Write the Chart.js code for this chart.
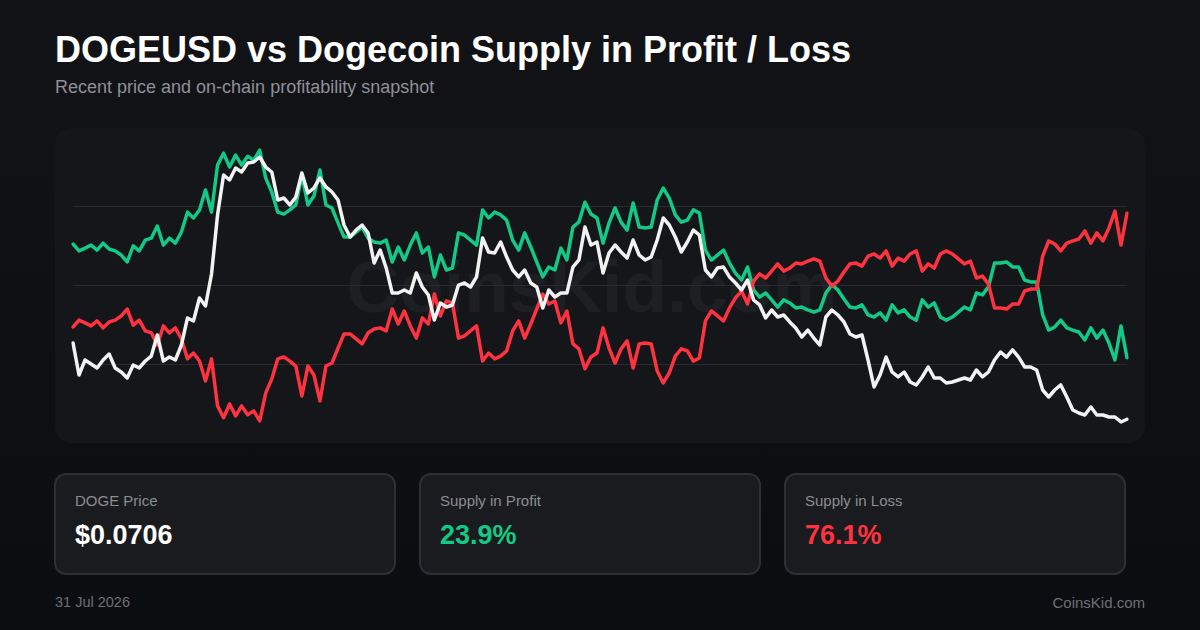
<!DOCTYPE html>
<html>
<head>
<meta charset="utf-8">
<script src="https://cdn.jsdelivr.net/npm/chart.js@4.4.1/dist/chart.umd.min.js"></script>
<style>
  * { margin: 0; padding: 0; box-sizing: border-box; }
  body {
    width: 1200px; height: 630px; overflow: hidden;
    background: linear-gradient(180deg, #121317 0%, #0c0d10 100%);
    font-family: "Liberation Sans", Arial, sans-serif;
    position: relative;
  }
  .title { position: absolute; left: 55px; top: 29px; font-size: 36px; font-weight: bold; color: #ffffff; }
  .subtitle { position: absolute; left: 55px; top: 77px; font-size: 18px; color: #8e9096; }
  .panel {
    position: absolute; left: 55px; top: 128px; width: 1090px; height: 315px;
    background: #15161a; border-radius: 16px; overflow: hidden;
  }
  .watermark {
    position: absolute; left: 0; width: 1074px; top: 159px; text-align: center;
    font-size: 73px; font-weight: bold; color: rgba(255,255,255,0.04);
    line-height: 90px; margin-top: -45px;
  }
  .chart-box { position: absolute; left: 55px; top: 128px; width: 1090px; height: 315px; }
  .stat {
    position: absolute; top: 473px; width: 342px; height: 102px;
    background: #1a1b1f; border: 2px solid #2d2f34; border-radius: 12px;
  }
  .stat .label { position: absolute; left: 19px; top: 17px; font-size: 15px; color: #8b8d93; }
  .stat .value { position: absolute; left: 19px; top: 45px; font-size: 27px; font-weight: bold; }
  .footer { position: absolute; top: 594px; font-size: 14.5px; color: #6d6f75; }
</style>
</head>
<body>
  <div class="title">DOGEUSD vs Dogecoin Supply in Profit / Loss</div>
  <div class="subtitle">Recent price and on-chain profitability snapshot</div>
  <div class="panel"><div class="watermark">CoinsKid.com</div></div>
  <div class="chart-box"><canvas id="mainChart"></canvas></div>

  <div class="stat" style="left:54px">
    <div class="label">DOGE Price</div>
    <div class="value" id="priceValue" style="color:#ffffff"></div>
  </div>
  <div class="stat" style="left:419px">
    <div class="label">Supply in Profit</div>
    <div class="value" id="profitValue" style="color:#14c886"></div>
  </div>
  <div class="stat" style="left:784px">
    <div class="label">Supply in Loss</div>
    <div class="value" id="lossValue" style="color:#ff3340"></div>
  </div>

  <div class="footer" style="left:55px">31 Jul 2026</div>
  <div class="footer" style="right:55px; font-size:15px">CoinsKid.com</div>

<script>
// DOGE price (USD), one point every 2 days
const dogePrice = [
  0.169, 0.1276, 0.147, 0.1418, 0.1367, 0.147, 0.1547, 0.1367, 0.1315, 0.1238,
  0.1405, 0.1367, 0.1457, 0.1521, 0.1792, 0.1457, 0.1508, 0.147, 0.1663, 0.2011,
  0.1972, 0.2269, 0.2166, 0.2578, 0.3339, 0.3854, 0.379, 0.3944, 0.3893, 0.4009,
  0.4022, 0.4086, 0.3957, 0.3893, 0.3532, 0.3558, 0.3468, 0.3571, 0.388, 0.3622,
  0.3687, 0.3816, 0.37, 0.3635, 0.3532, 0.321, 0.3055, 0.3145, 0.321, 0.3107,
  0.272, 0.2888, 0.2656, 0.2333, 0.2333, 0.2372, 0.2333, 0.2591, 0.2411, 0.2308,
  0.1985, 0.2204, 0.2153, 0.2179, 0.2436, 0.2462, 0.2411, 0.254, 0.3042, 0.2862,
  0.2849, 0.2991, 0.2797, 0.263, 0.254, 0.263, 0.2462, 0.2411, 0.214, 0.2372,
  0.2282, 0.2333, 0.2333, 0.2668, 0.2759, 0.3184, 0.2952, 0.2991, 0.2591, 0.2849,
  0.2952, 0.2862, 0.2784, 0.3016, 0.2823, 0.2759, 0.2797, 0.3016, 0.33, 0.321,
  0.3055, 0.2862, 0.2991, 0.3145, 0.3081, 0.263, 0.254, 0.2656, 0.2668, 0.254,
  0.2462, 0.2372, 0.2501, 0.2243, 0.2179, 0.2011, 0.2114, 0.2024, 0.205, 0.196,
  0.1882, 0.1766, 0.1856, 0.1753, 0.1663, 0.2024, 0.2114, 0.205, 0.196, 0.1805,
  0.1766, 0.1792, 0.147, 0.1122, 0.1276, 0.1508, 0.1315, 0.1251, 0.1315, 0.1186,
  0.1148, 0.1251, 0.138, 0.1238, 0.1238, 0.1173, 0.1186, 0.1212, 0.1238, 0.1212,
  0.1341, 0.1251, 0.1315, 0.147, 0.1573, 0.1508, 0.1599, 0.1508, 0.138, 0.138,
  0.1341, 0.1083, 0.0993, 0.1083, 0.1148, 0.0993, 0.0825, 0.0787, 0.0761, 0.0864,
  0.0761, 0.0761, 0.0735, 0.0735, 0.0671, 0.0706
];

// % of supply in profit
const supplyProfit = [
  65.0, 62.5, 63.5, 64.6, 62.8, 65.3, 63.2, 62.5, 61.0, 58.5,
  64.3, 62.5, 66.4, 67.1, 71.5, 64.6, 67.1, 65.3, 69.3, 76.5,
  74.4, 77.3, 84.5, 76.5, 93.5, 97.8, 92.8, 97.1, 93.5, 96.7,
  95.3, 98.9, 88.8, 83.8, 76.5, 75.8, 77.3, 79.1, 89.9, 79.1,
  82.3, 91.7, 79.1, 78.0, 72.6, 67.5, 67.5, 69.3, 71.1, 67.1,
  65.7, 65.3, 66.4, 58.5, 63.9, 59.2, 64.6, 69.0, 61.7, 63.9,
  53.1, 61.0, 55.6, 56.3, 69.0, 68.2, 66.4, 64.6, 77.3, 74.4,
  76.5, 75.5, 73.6, 66.4, 62.8, 69.0, 63.9, 58.5, 53.1, 56.7,
  55.6, 63.5, 59.2, 71.1, 72.9, 80.1, 75.8, 74.4, 65.3, 72.6,
  78.0, 72.9, 70.0, 79.8, 71.1, 70.8, 71.1, 80.9, 85.2, 81.6,
  75.5, 72.9, 73.6, 77.3, 76.2, 62.8, 59.2, 61.0, 62.8, 58.1,
  54.5, 52.0, 56.7, 48.4, 45.8, 47.3, 44.8, 42.2, 44.8, 43.7,
  41.9, 42.2, 41.2, 40.4, 41.2, 47.3, 50.2, 48.4, 45.1, 42.2,
  41.9, 43.0, 39.4, 38.6, 40.1, 37.5, 43.0, 40.1, 41.2, 38.6,
  37.5, 44.8, 42.2, 43.7, 38.6, 37.5, 38.6, 40.4, 42.2, 41.2,
  47.3, 46.6, 49.5, 58.1, 58.1, 58.5, 56.7, 56.7, 52.0, 51.3,
  51.3, 39.4, 33.9, 35.0, 37.5, 34.7, 33.9, 33.2, 30.3, 34.7,
  31.0, 33.9, 29.2, 23.1, 35.4, 23.9
];

// % of supply in loss
const supplyLoss = [
  35.0, 37.5, 36.5, 35.4, 37.2, 34.7, 36.8, 37.5, 39.0, 41.5,
  35.7, 37.5, 33.6, 32.9, 28.5, 35.4, 32.9, 34.7, 30.7, 23.5,
  25.6, 22.7, 15.5, 23.5, 6.5, 2.2, 7.2, 2.9, 6.5, 3.3,
  4.7, 1.1, 11.2, 16.2, 23.5, 24.2, 22.7, 20.9, 10.1, 20.9,
  17.7, 8.3, 20.9, 22.0, 27.4, 32.5, 32.5, 30.7, 28.9, 32.9,
  34.3, 34.7, 33.6, 41.5, 36.1, 40.8, 35.4, 31.0, 38.3, 36.1,
  46.9, 39.0, 44.4, 43.7, 31.0, 31.8, 33.6, 35.4, 22.7, 25.6,
  23.5, 24.5, 26.4, 33.6, 37.2, 31.0, 36.1, 41.5, 46.9, 43.3,
  44.4, 36.5, 40.8, 28.9, 27.1, 19.9, 24.2, 25.6, 34.7, 27.4,
  22.0, 27.1, 30.0, 20.2, 28.9, 29.2, 28.9, 19.1, 14.8, 18.4,
  24.5, 27.1, 26.4, 22.7, 23.8, 37.2, 40.8, 39.0, 37.2, 41.9,
  45.5, 48.0, 43.3, 51.6, 54.2, 52.7, 55.2, 57.8, 55.2, 56.3,
  58.1, 57.8, 58.8, 59.6, 58.8, 52.7, 49.8, 51.6, 54.9, 57.8,
  58.1, 57.0, 60.6, 61.4, 59.9, 62.5, 57.0, 59.9, 58.8, 61.4,
  62.5, 55.2, 57.8, 56.3, 61.4, 62.5, 61.4, 59.6, 57.8, 58.8,
  52.7, 53.4, 50.5, 41.9, 41.9, 41.5, 43.3, 43.3, 48.0, 48.7,
  48.7, 60.6, 66.1, 65.0, 62.5, 65.3, 66.1, 66.8, 69.7, 65.3,
  69.0, 66.1, 70.8, 76.9, 64.6, 76.1
];

// date labels, every 2 days up to the snapshot date
const lastDate = new Date(Date.UTC(2026, 6, 31));
const dates = dogePrice.map((_, i) => {
    const d = new Date(lastDate.getTime() - (dogePrice.length - 1 - i) * 2 * 86400000);
    return d.toISOString().slice(0, 10);
});

document.addEventListener('DOMContentLoaded', function () {
    const last = dogePrice.length - 1;
    document.getElementById('priceValue').textContent = '$' + dogePrice[last].toFixed(4);
    document.getElementById('profitValue').textContent = supplyProfit[last].toFixed(1) + '%';
    document.getElementById('lossValue').textContent = supplyLoss[last].toFixed(1) + '%';

    const ctx = document.getElementById('mainChart').getContext('2d');
    new Chart(ctx, {
        type: 'line',
        data: {
            labels: dates,
            datasets: [
                {
                    label: 'DOGE Price',
                    data: dogePrice,
                    yAxisID: 'price',
                    borderColor: '#f2f2f2',
                    order: 0
                },
                {
                    label: 'Supply in Loss',
                    data: supplyLoss,
                    yAxisID: 'pct',
                    borderColor: '#ff3340',
                    order: 1
                },
                {
                    label: 'Supply in Profit',
                    data: supplyProfit,
                    yAxisID: 'pct',
                    borderColor: '#14c886',
                    order: 2
                }
            ]
        },
        options: {
            responsive: true,
            maintainAspectRatio: false,
            animation: false,
            layout: { padding: { left: 18, right: 18, top: 0, bottom: 0 } },
            elements: {
                point: { radius: 0 },
                line: { borderWidth: 3.5, tension: 0, borderJoinStyle: 'round', borderCapStyle: 'round' }
            },
            plugins: {
                legend: { display: false },
                tooltip: { enabled: false }
            },
            scales: {
                x: { display: false },
                pct: { display: false, min: -6.9, max: 106.9 },
                price: { display: false, min: 0.04, max: 0.446 },
                // decorative axis, only for the three horizontal guide lines
                guide: {
                    position: 'left',
                    min: 0,
                    max: 4,
                    ticks: { display: false, stepSize: 1 },
                    border: { display: false },
                    grid: {
                        drawTicks: false,
                        lineWidth: 1,
                        color: (c) => (c.tick && (c.tick.value === 0 || c.tick.value === 4)) ? 'rgba(0,0,0,0)' : '#2a2b30'
                    }
                }
            }
        }
    });
});
</script>
</body>
</html>
